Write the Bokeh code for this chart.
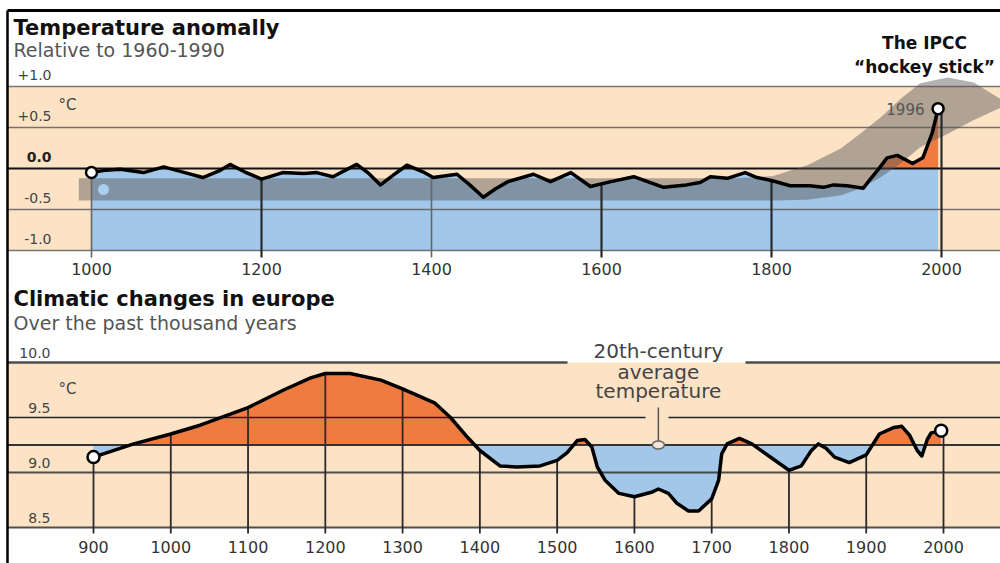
import numpy as np
from bokeh.plotting import figure
from bokeh.models import Range1d
from bokeh.core.properties import value
from bokeh.embed import file_html
from bokeh.resources import INLINE

# ------------------------------------------------------------------ data
# Temperature anomaly (deg C, relative to 1960-1990)
top_years = [1000, 1017, 1034, 1061, 1085, 1110, 1131, 1150, 1163, 1180, 1200,
             1225, 1250, 1265, 1284, 1312, 1325, 1340, 1355, 1371, 1390, 1402,
             1430, 1445, 1461, 1475, 1490, 1520, 1540, 1564, 1587, 1611, 1638,
             1673, 1700, 1716, 1728, 1748, 1769, 1783, 1801, 1822, 1845, 1861,
             1873, 1889, 1908, 1917, 1925, 1936, 1948, 1966, 1978, 1989, 1996]
top_anom = [-0.05, -0.02, -0.01, -0.05, 0.02, -0.05, -0.11, -0.03, 0.05, -0.04, -0.13,
            -0.05, -0.06, -0.05, -0.10, 0.05, -0.05, -0.20, -0.08, 0.04, -0.04, -0.11,
            -0.07, -0.20, -0.35, -0.25, -0.16, -0.07, -0.16, -0.05, -0.22, -0.16, -0.10,
            -0.23, -0.20, -0.17, -0.10, -0.12, -0.05, -0.11, -0.15, -0.21, -0.21, -0.23,
            -0.20, -0.21, -0.24, -0.12, -0.02, 0.13, 0.16, 0.06, 0.13, 0.43, 0.73]
top_ticks = [1000, 1200, 1400, 1600, 1800, 2000]
top_grid = [1.0, 0.5, 0.0, -0.5, -1.0]
top_grid_labels = ["+1.0", "+0.5", "0.0", "-0.5", "-1.0"]
# grey uncertainty band ("hockey stick")
band_years = [985, 1760, 1802, 1842, 1881, 1905, 1928, 1952, 1975, 2007, 2038, 2069, 2080]
band_low = [-0.39, -0.39, -0.39, -0.38, -0.33, -0.24, -0.11, 0.06, 0.26, 0.42, 0.59, 0.74, 0.78]
band_high = [-0.12, -0.12, -0.09, 0.04, 0.24, 0.43, 0.62, 0.85, 1.04, 1.11, 1.05, 0.85, 0.78]
end_year_label = "1996"

# Climatic changes in Europe (deg C)
eu_years = [900, 952, 1000, 1038, 1100, 1146, 1181, 1200, 1232, 1272, 1300,
            1342, 1362, 1384, 1400, 1426, 1448, 1478, 1500, 1513, 1526, 1536,
            1545, 1552, 1562, 1580, 1600, 1622, 1631, 1644, 1655, 1670, 1683,
            1700, 1709, 1713, 1720, 1736, 1752, 1774, 1800, 1816, 1829, 1838,
            1848, 1859, 1878, 1900, 1917, 1936, 1946, 1956, 1966, 1972, 1979,
            1984, 1997]
eu_temp = [9.14, 9.26, 9.35, 9.43, 9.59, 9.75, 9.86, 9.90, 9.90, 9.84, 9.76,
           9.63, 9.50, 9.32, 9.20, 9.06, 9.05, 9.06, 9.11, 9.18, 9.29, 9.30,
           9.23, 9.05, 8.93, 8.81, 8.78, 8.82, 8.85, 8.81, 8.72, 8.65, 8.65,
           8.76, 8.93, 9.17, 9.26, 9.31, 9.26, 9.15, 9.02, 9.06, 9.20, 9.26,
           9.22, 9.14, 9.09, 9.16, 9.35, 9.41, 9.42, 9.34, 9.20, 9.15, 9.30,
           9.36, 9.38]
eu_ticks = [900, 1000, 1100, 1200, 1300, 1400, 1500, 1600, 1700, 1800, 1900, 2000]
eu_grid = [10.0, 9.5, 9.0, 8.5]
eu_grid_labels = ["10.0", "9.5", "9.0", "8.5"]
eu_avg = 9.25
eu_avg_year = 1631
eu_avg_text = ["20th-century", "average", "temperature"]

# ------------------------------------------------------------------ style
PEACH = "#FDE3C6"
BLUE = "#A3C7E8"
ORANGE = "#F07B41"
FONT = value("DejaVu Sans")
W, H = 1000, 563
M = 0  # the page template has no body margin


def lin(p0, v0, p1, v1):
    a = (v1 - v0) / (p1 - p0)
    return lambda q: v0 + (q - p0) * a


# page-pixel -> data calibrations of the two panels
top_x = lin(91, 1000, 941, 2000)
top_y = lin(168, 0.0, 86, 1.0)
eu_x = lin(93, 900, 943, 2000)
eu_y = lin(472, 9.0, 362, 10.0)


def split_at(xs, ys, base):
    xs, ys = list(xs), list(ys)
    ox, oy = [xs[0]], [ys[0]]
    for i in range(1, len(xs)):
        a, b = ys[i - 1] - base, ys[i] - base
        if a * b < 0:
            t = a / (a - b)
            ox.append(xs[i - 1] + t * (xs[i] - xs[i - 1]))
            oy.append(base)
        ox.append(xs[i])
        oy.append(ys[i])
    return np.array(ox), np.array(oy)


p = figure(width=W, height=H, output_backend="svg", toolbar_location=None,
           x_range=Range1d(top_x(M), top_x(M + W)),
           y_range=Range1d(top_y(M + H), top_y(M)),
           x_axis_location=None, y_axis_location=None, min_border=0)
p.extra_x_ranges = {"eu": Range1d(eu_x(M), eu_x(M + W))}
p.extra_y_ranges = {"eu": Range1d(eu_y(M + H), eu_y(M))}
p.outline_line_color = None
p.grid.visible = False
p.background_fill_color = "white"
p.border_fill_color = "white"

TX0, TX1 = top_x(7), top_x(M + W)
EX0, EX1 = eu_x(7), eu_x(M + W)
EU = dict(x_range_name="eu", y_range_name="eu")

# ================================================================ TOP PANEL
p.quad(left=TX0, right=TX1, bottom=min(top_grid), top=max(top_grid),
       fill_color=PEACH, line_color=None)
tx, ty = split_at(top_years, top_anom, 0.0)
p.varea(x=tx, y1=min(top_grid), y2=np.minimum(ty, 0.0), fill_color=BLUE)
p.varea(x=tx, y1=0.0, y2=np.maximum(ty, 0.0), fill_color=ORANGE)

for g in top_grid:
    if g == 0.0:
        p.segment(TX0, g, TX1, g, line_color="#111111", line_width=2)
    else:
        p.segment(TX0, g, TX1, g, line_color="#555555", line_width=1.5, line_alpha=0.8)

p.varea(x=band_years, y1=band_low, y2=band_high, fill_color="#555555", fill_alpha=0.45)
p.scatter(x=[top_x(103)], y=[top_y(189)], size=11, fill_color="#AACDF0", line_color=None)

drop_bottom = top_y(257)
for t in top_ticks:
    yv = float(np.interp(t, top_years, top_anom))
    light = t in (1000, 1400)
    p.segment(t, yv, t, drop_bottom, line_color="#666666" if light else "#2a2a2a",
              line_width=1.6 if light else 2.2)

p.line(top_years, top_anom, line_color="black", line_width=3.5, line_join="round")
p.scatter(x=[top_years[0], top_years[-1]], y=[top_anom[0], top_anom[-1]], size=11,
          fill_color="white", line_color="black", line_width=2.5)

p.text(x=[top_x(924)], y=[top_y(108)], text=[end_year_label], text_font=FONT,
       text_font_size="15px", text_color="#555555", text_align="right",
       text_baseline="middle")

p.text(x=top_ticks, y=[top_y(268)] * len(top_ticks), text=[str(t) for t in top_ticks],
       text_font=FONT, text_font_size="16px", text_color="#333333",
       text_align="center", text_baseline="middle")
off = 12 / 82.0
for g, lab in zip(top_grid, top_grid_labels):
    p.text(x=[top_x(51)], y=[g + off], text=[lab], text_font=FONT,
           text_font_size="14px", text_color="#222222" if g == 0 else "#444444",
           text_font_style="bold" if g == 0 else "normal",
           text_align="right", text_baseline="middle")
p.text(x=[top_x(58)], y=[top_y(104)], text=["°C"], text_font=FONT, text_font_size="15px",
       text_color="#444444", text_align="left", text_baseline="middle")

p.text(x=[top_x(13)], y=[top_y(27)], text=["Temperature anomally"], text_font=FONT,
       text_font_size="21px", text_font_style="bold", text_color="#111111",
       text_baseline="middle")
p.text(x=[top_x(13)], y=[top_y(49)], text=["Relative to 1960-1990"], text_font=FONT,
       text_font_size="19px", text_color="#555555", text_baseline="middle")
p.text(x=[top_x(924)] * 2, y=[top_y(42), top_y(66)],
       text=["The IPCC", "\u201chockey stick\u201d"], text_font=FONT,
       text_font_size="17px", text_font_style="bold", text_color="#111111",
       text_align="center", text_baseline="middle")

# ============================================================= BOTTOM PANEL
p.quad(left=EX0, right=EX1, bottom=min(eu_grid), top=max(eu_grid),
       fill_color=PEACH, line_color=None, **EU)
ex, ey = split_at(eu_years, eu_temp, eu_avg)
p.varea(x=ex, y1=np.minimum(ey, eu_avg), y2=eu_avg, fill_color=BLUE, **EU)
p.varea(x=ex, y1=eu_avg, y2=np.maximum(ey, eu_avg), fill_color=ORANGE, **EU)

gap_wide = (eu_x(567), eu_x(745))
gap_narrow = (eu_x(645), eu_x(668))
for g in eu_grid:
    if g == max(eu_grid):
        p.segment([EX0, gap_wide[1]], [g, g], [gap_wide[0], EX1], [g, g],
                  line_color="#4d4d4d", line_width=2.5, **EU)
    elif g == 9.5:
        p.segment([EX0, gap_narrow[1]], [g, g], [gap_narrow[0], EX1], [g, g],
                  line_color="#222222", line_width=1.6, **EU)
    else:
        p.segment(EX0, g, EX1, g, line_color="#333333", line_width=2.0,
                  line_alpha=0.85, **EU)
p.segment(EX0, eu_avg, EX1, eu_avg, line_color="#333333", line_width=2, **EU)

eu_drop = eu_y(533)
for t in eu_ticks:
    yv = float(np.interp(t, eu_years, eu_temp))
    p.segment(t, yv, t, eu_drop, line_color="#2a2a2a", line_width=1.8, **EU)

p.line(eu_years, eu_temp, line_color="black", line_width=3.5, line_join="round", **EU)
p.scatter(x=[eu_years[0], eu_years[-1]], y=[eu_temp[0], eu_temp[-1]], size=12,
          fill_color="white", line_color="black", line_width=2.5, **EU)

# 20th-century average annotation
p.segment(eu_avg_year, eu_y(407), eu_avg_year, eu_y(442), line_color="#555555",
          line_width=1.5, **EU)
p.ellipse(x=[eu_avg_year], y=[eu_avg], width=12, height=8, width_units="screen",
          height_units="screen", fill_color="#F3E6D8", line_color="#666666",
          line_width=1.5, **EU)
p.text(x=[eu_avg_year] * 3, y=[eu_y(350), eu_y(371), eu_y(390)], text=eu_avg_text,
       text_font=FONT, text_font_size="20px", text_color="#444444",
       text_align="center", text_baseline="middle", **EU)

p.text(x=eu_ticks, y=[eu_y(546)] * len(eu_ticks), text=[str(t) for t in eu_ticks],
       text_font=FONT, text_font_size="16px", text_color="#333333",
       text_align="center", text_baseline="middle", **EU)
off2 = 10 / 110.0
p.text(x=[eu_x(50)] * len(eu_grid), y=[g + off2 for g in eu_grid], text=eu_grid_labels,
       text_font=FONT, text_font_size="14px", text_color="#444444",
       text_align="right", text_baseline="middle", **EU)
p.text(x=[eu_x(58)], y=[eu_y(388)], text=["°C"], text_font=FONT, text_font_size="15px",
       text_color="#444444", text_align="left", text_baseline="middle", **EU)

p.text(x=[eu_x(13)], y=[eu_y(298)], text=["Climatic changes in europe"], text_font=FONT,
       text_font_size="21px", text_font_style="bold", text_color="#111111",
       text_baseline="middle", **EU)
p.text(x=[eu_x(13)], y=[eu_y(322)], text=["Over the past thousand years"], text_font=FONT,
       text_font_size="19px", text_color="#555555", text_baseline="middle", **EU)

# frame (top and left rules)
p.segment(top_x(7), top_y(10), TX1, top_y(10), line_color="black", line_width=3)
p.segment(top_x(7), top_y(10), top_x(7), top_y(M + H), line_color="black", line_width=2.5)

open("out.html", "w").write(file_html(p, INLINE, title="Temperature anomally"))
